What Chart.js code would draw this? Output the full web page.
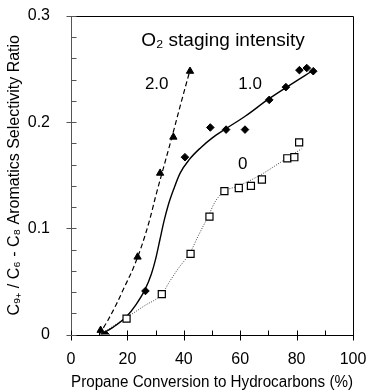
<!DOCTYPE html>
<html>
<head>
<meta charset="utf-8">
<script src="https://cdn.jsdelivr.net/npm/chart.js@4/dist/chart.umd.min.js"></script>
<style>
html,body{margin:0;padding:0;background:#fff;}
#wrap{width:368px;height:392px;position:relative;}
</style>
</head>
<body>
<div id="wrap"><canvas id="c"></canvas></div>
<script>
// ---- data ----
const xTicks = [0, 20, 40, 60, 80, 100];
const yTicks = [0, 0.1, 0.2, 0.3];

// O2 staging intensity 2.0 (triangles)
const tri = [[10.5,0.004],[23.6,0.073],[31.6,0.152],[36.3,0.186],[42.2,0.248]];
// O2 staging intensity 1.0 (diamonds)
const dia = [[12.3,0.000],[26.4,0.041],[40.4,0.167],[49.4,0.195],[55.0,0.193],[61.7,0.193],[70.3,0.221],[76.2,0.233],[81.0,0.249],[83.6,0.251],[85.9,0.248]];
// O2 staging intensity 0 (open squares)
const sq = [[19.7,0.015],[32.2,0.038],[42.4,0.076],[49.1,0.111],[54.4,0.135],[59.5,0.138],[63.8,0.140],[67.7,0.146],[76.7,0.166],[79.2,0.167],[80.9,0.181]];

// fitted trend curves
const fit20 = [[10,0],[13,0.013],[16,0.028],[19,0.045],[22,0.062],[25,0.083],[28,0.109],[30,0.13],[33,0.159],[36,0.188],[39,0.218],[42.3,0.25]];
const fit10 = [[10.5,0],[15,0.007],[19.7,0.017],[23,0.028],[26.2,0.042],[28.5,0.057],[30,0.071],[31.5,0.089],[33,0.107],[34.5,0.122],[36.3,0.136],[38.7,0.152],[42,0.165],[46,0.176],[50,0.185],[55,0.194],[62,0.206],[69.4,0.2205],[76.5,0.233],[84.8,0.247],[86,0.249]];
const fit0 = [[10.5,0],[15,0.008],[19.7,0.016],[26,0.027],[32.2,0.038],[35,0.05],[38,0.062],[42.2,0.077],[45.5,0.095],[48.6,0.111],[51.1,0.125],[54,0.134],[59.9,0.1405],[67,0.150],[76.5,0.166],[81.8,0.175]];

// annotation labels [text, x, y, fontSize]
const labels = [["O₂ staging intensity",53.9,0.277,19],["2.0",30.4,0.2357,17],["1.0",63.5,0.2357,17],["0",60.9,0.1604,17]];

const FONT = "'Liberation Sans', Arial, sans-serif";
const toPts = a => a.map(p => ({x:p[0], y:p[1]}));

const framePlugin = {
  id:'frame',
  afterDraw(chart){
    const {ctx, chartArea:{left,right,top,bottom}, scales:{x,y}} = chart;
    ctx.save();
    ctx.strokeStyle = '#000';
    ctx.lineWidth = 1;
    const L = Math.round(left)+0.5, R = Math.round(right)+0.5, T = Math.round(top)+0.5, B = Math.round(bottom)+0.5;
    ctx.beginPath();
    ctx.moveTo(L,B); ctx.lineTo(R,B); ctx.lineTo(R,T); ctx.lineTo(L,T);
    ctx.stroke();
    ctx.strokeStyle = '#555';
    ctx.beginPath(); ctx.moveTo(L,T); ctx.lineTo(L,B); ctx.stroke();
    ctx.strokeStyle = '#000';
    ctx.beginPath();
    for (let i=0;i<=10;i++){
      const v = i*10;
      const px = Math.round(x.getPixelForValue(v))+0.5;
      ctx.moveTo(px, B-5);
      ctx.lineTo(px, i%2===0 ? B+5 : B);
    }
    ctx.stroke();
    ctx.strokeStyle = '#555';
    ctx.beginPath();
    for (let i=0;i<=15;i++){
      const v = i*0.02;
      const py = Math.round(y.getPixelForValue(v))+0.5;
      ctx.moveTo(L+5, py);
      ctx.lineTo(i%5===0 ? L-5 : L, py);
    }
    ctx.stroke();
    // annotations
    ctx.fillStyle = '#000';
    ctx.textAlign = 'center';
    ctx.textBaseline = 'middle';
    labels.forEach(l => {
      ctx.font = l[3] + 'px ' + FONT;
      ctx.fillText(l[0], x.getPixelForValue(l[1]), y.getPixelForValue(l[2]));
    });
    ctx.restore();
  }
};

new Chart(document.getElementById('c'), {
  type:'scatter',
  data:{
    datasets:[
      {label:'2.0', data:toPts(tri), pointStyle:'triangle', pointRadius:4.2, backgroundColor:'#000', borderColor:'#000', borderWidth:1, showLine:false},
      {label:'1.0', data:toPts(dia), pointStyle:'rectRot', pointRadius:3.8, backgroundColor:'#000', borderColor:'#000', borderWidth:1, showLine:false},
      {label:'0', data:toPts(sq), pointStyle:'rect', pointRadius:5, backgroundColor:'#fff', borderColor:'#000', borderWidth:1.2, showLine:false},
      {label:'fit 2.0', data:toPts(fit20), showLine:true, pointRadius:0, borderColor:'#000', borderWidth:1.2, borderDash:[5,3], cubicInterpolationMode:'monotone', fill:false},
      {label:'fit 1.0', data:toPts(fit10), showLine:true, pointRadius:0, borderColor:'#000', borderWidth:1.4, cubicInterpolationMode:'monotone', fill:false},
      {label:'fit 0', data:toPts(fit0), showLine:true, pointRadius:0, borderColor:'#444', borderWidth:1, borderDash:[1,1.5], cubicInterpolationMode:'monotone', fill:false}
    ]
  },
  options:{
    responsive:true, maintainAspectRatio:false, animation:false,
    layout:{padding:{left:0,right:15,top:16,bottom:0}},
    plugins:{legend:{display:false}, tooltip:{enabled:false}},
    scales:{
      x:{type:'linear', min:0, max:100,
         afterBuildTicks: s => { s.ticks = xTicks.map(v=>({value:v})); },
         afterFit: s => { s.height = 57.5; },
         grid:{display:true, drawOnChartArea:false, drawTicks:true, tickLength:15, color:'rgba(0,0,0,0)'}, border:{display:false},
         ticks:{color:'#000', padding:0, font:{family:FONT, size:16}, maxRotation:0},
         title:{display:true, text:'Propane Conversion to Hydrocarbons (%)', color:'#000', font:{family:FONT, size:16}, padding:{top:0,bottom:0}}},
      y:{type:'linear', min:0, max:0.3,
         afterBuildTicks: s => { s.ticks = yTicks.map(v=>({value:v})); },
         afterFit: s => { s.width = 71; },
         grid:{display:true, drawOnChartArea:false, drawTicks:true, tickLength:21, color:'rgba(0,0,0,0)'}, border:{display:false},
         ticks:{color:'#000', padding:0, font:{family:FONT, size:16}, callback: v => v===0 ? '0' : v.toFixed(1)},
         title:{display:true, text:'C₉₊ / C₆ - C₈ Aromatics Selectivity Ratio', color:'#000', font:{family:FONT, size:16}, padding:{top:5,bottom:0}}}
    }
  },
  plugins:[framePlugin]
});
</script>
</body>
</html>
